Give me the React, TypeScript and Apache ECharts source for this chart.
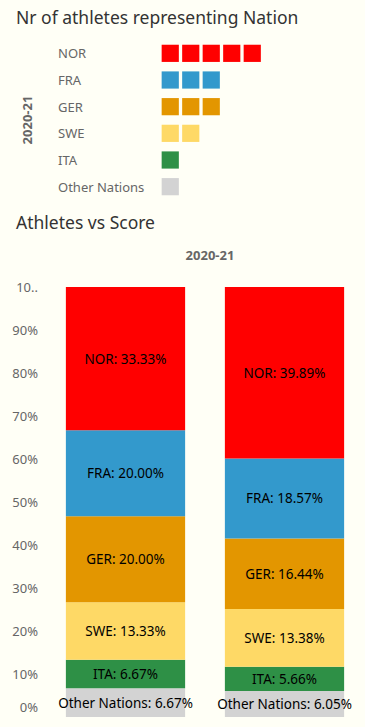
import React, { useEffect, useRef } from "react";
import * as echarts from "echarts";

const nations = ["NOR", "FRA", "GER", "SWE", "ITA", "Other Nations"];
const athleteCounts = [5, 3, 3, 2, 1, 1];
const colors = ["#ff0000", "#3399cc", "#e39600", "#fed966", "#2e9046", "#d3d3d3"];
const barCategories = ["Athletes", "Score"];
const athleteShare = [33.33, 20.0, 20.0, 13.33, 6.67, 6.67];
const scoreShare = [39.89, 18.57, 16.44, 13.38, 5.66, 6.05];
const season = "2020-21";

const BG = "#fffff6";
const FONT = "'Noto Sans', sans-serif";

export default function App() {
  const ref = useRef<HTMLDivElement>(null);
  useEffect(() => {
    if (!ref.current) return;
    const chart = echarts.init(ref.current, null, { renderer: "svg" });

    // stacked series: bottom first
    const order = [5, 4, 3, 2, 1, 0];
    const stackSeries = order.map((i) => ({
      type: "bar",
      name: nations[i],
      stack: "s",
      xAxisIndex: 1,
      yAxisIndex: 1,
      barWidth: "75%",
      itemStyle: { color: colors[i] },
      label: {
        show: true,
        position: "inside",
        color: "#000",
        fontSize: 13.5,
        fontFamily: FONT,
        formatter: (p: any) => `${p.seriesName}: ${Number(p.value).toFixed(2)}%`,
      },
      data: [athleteShare[i], scoreShare[i]],
    }));

    chart.setOption({
      animation: false,
      backgroundColor: BG,
      textStyle: { fontFamily: FONT },
      title: [
        {
          text: "Nr of athletes representing Nation",
          left: 11,
          top: 3,
          textStyle: { fontSize: 17.5, fontWeight: "normal", color: "#333", fontFamily: FONT },
        },
        {
          text: "Athletes vs Score",
          left: 11,
          top: 208,
          textStyle: { fontSize: 17.5, fontWeight: "normal", color: "#333", fontFamily: FONT },
        },
        {
          text: season,
          left: 205,
          top: 243,
          textAlign: "center",
          textStyle: { fontSize: 13, fontWeight: "bold", color: "#666", fontFamily: FONT },
        },
      ],
      grid: [
        { left: 160, top: 40, width: 210, height: 160 },
        { left: 46, right: 1, top: 287, bottom: 10 },
      ],
      xAxis: [
        { gridIndex: 0, type: "value", min: 0, max: 10, show: false },
        { gridIndex: 1, type: "category", data: barCategories, show: false },
      ],
      yAxis: [
        {
          gridIndex: 0,
          type: "category",
          data: nations,
          inverse: true,
          name: season,
          nameLocation: "middle",
          nameRotate: 90,
          nameGap: 127,
          nameTextStyle: { fontSize: 13, fontWeight: "bold", color: "#666", fontFamily: FONT },
          axisLine: { show: false },
          axisTick: { show: false },
          axisLabel: { align: "left", margin: 102, fontSize: 13, color: "#666", fontFamily: FONT },
        },
        {
          gridIndex: 1,
          type: "value",
          min: 0,
          max: 100,
          interval: 10,
          splitLine: { show: false },
          axisLine: { show: false },
          axisTick: { show: false },
          axisLabel: {
            margin: 8,
            fontSize: 13,
            color: "#666",
            fontFamily: FONT,
            width: 30,
            overflow: "truncate",
            ellipsis: "..",
            formatter: (v: number) => (v === 0 ? "{z|0%}" : `${v}%`),
            rich: { z: { fontSize: 13, color: "#666", padding: [0, 0, 20, 0] } },
          },
        },
      ],
      series: [
        {
          type: "pictorialBar",
          xAxisIndex: 0,
          yAxisIndex: 0,
          symbol: "rect",
          symbolRepeat: true,
          symbolSize: [17, 17],
          symbolMargin: "2!",
          symbolPosition: "start",
          data: athleteCounts.map((v, i) => ({ value: v, itemStyle: { color: colors[i] } })),
        },
        ...stackSeries,
      ],
    });
    return () => chart.dispose();
  }, []);
  return <div ref={ref} style={{ position: "fixed", left: 0, top: 0, width: 365, height: 727 }} />;
}
